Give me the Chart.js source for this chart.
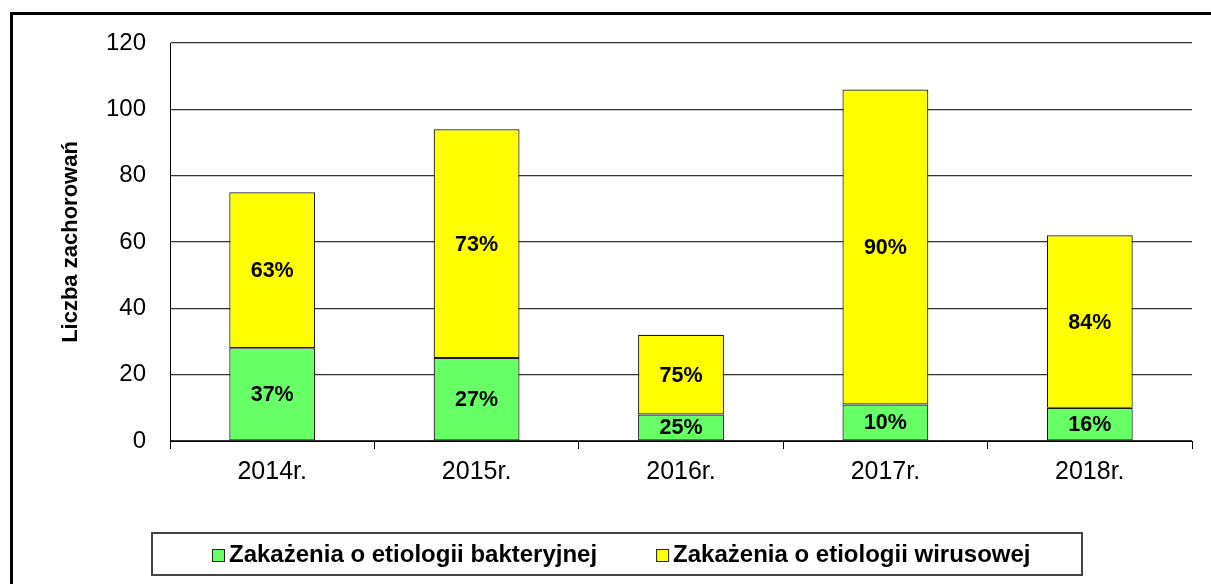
<!DOCTYPE html>
<html>
<head>
<meta charset="utf-8">
<script src="https://cdn.jsdelivr.net/npm/chart.js@4"></script>
<style>
html,body{margin:0;padding:0;background:#fff;}
#wrap{position:relative;width:1211px;height:584px;}
</style>
</head>
<body>
<div id="wrap"><canvas id="c" width="1211" height="584"></canvas></div>
<script>
const categories = ['2014r.', '2015r.', '2016r.', '2017r.', '2018r.'];
const bacterial = [28, 25, 8, 11, 10];
const viral = [47, 69, 24, 95, 52];
const seriesNames = ['Zakażenia o etiologii bakteryjnej', 'Zakażenia o etiologii wirusowej'];
const yTicks = [0, 20, 40, 60, 80, 100, 120];
const yTitle = 'Liczba zachorowań';

const FONT = "'Liberation Sans', Arial, sans-serif";

const frame = {
  id: 'frame',
  beforeDraw(chart) {
    const ctx = chart.ctx;
    ctx.save();
    ctx.fillStyle = '#fff';
    ctx.fillRect(0, 0, chart.width, chart.height);
    ctx.strokeStyle = '#000';
    ctx.lineWidth = 3;
    ctx.strokeRect(11.5, 13.5, 1400, 800);
    ctx.restore();
  }
};

const pctLabels = {
  id: 'pctLabels',
  afterDatasetsDraw(chart) {
    const ctx = chart.ctx;
    ctx.save();
    ctx.font = 'bold 21.5px ' + FONT;
    ctx.fillStyle = '#000';
    ctx.textAlign = 'center';
    ctx.textBaseline = 'middle';
    const ds = chart.data.datasets;
    categories.forEach((c, i) => {
      const total = ds.reduce((s, d) => s + d.data[i], 0);
      ds.forEach((d, di) => {
        const el = chart.getDatasetMeta(di).data[i];
        const pct = Math.round(d.data[i] / total * 100) + '%';
        ctx.fillText(pct, el.x, (el.y + el.base) / 2 + 1);
      });
    });
    ctx.restore();
  }
};

const boxLegend = {
  id: 'boxLegend',
  afterDraw(chart) {
    const ctx = chart.ctx;
    ctx.save();
    ctx.strokeStyle = '#444';
    ctx.lineWidth = 2;
    ctx.strokeRect(152, 533, 930, 42);
    ctx.font = 'bold 24px ' + FONT;
    ctx.textBaseline = 'middle';
    ctx.textAlign = 'left';
    let x = 212;
    const y = 555;
    chart.data.datasets.forEach((d) => {
      ctx.fillStyle = d.backgroundColor;
      ctx.fillRect(x, y - 6, 12, 12);
      ctx.strokeStyle = '#222';
      ctx.lineWidth = 1;
      ctx.strokeRect(x + 0.5, y - 5.5, 12, 12);
      ctx.fillStyle = '#000';
      ctx.fillText(d.label, x + 17, y);
      x += 17 + ctx.measureText(d.label).width + 59;
    });
    ctx.restore();
  }
};

new Chart(document.getElementById('c'), {
  type: 'bar',
  data: {
    labels: categories,
    datasets: [
      { label: seriesNames[0], data: bacterial, backgroundColor: '#66FF66', borderColor: '#1a1a1a', borderWidth: 1.2, borderSkipped: false },
      { label: seriesNames[1], data: viral, backgroundColor: '#FFFF00', borderColor: '#1a1a1a', borderWidth: 1.2, borderSkipped: false }
    ]
  },
  options: {
    responsive: false,
    animation: false,
    events: [],
    categoryPercentage: 1,
    barPercentage: 0.42,
    layout: { padding: { left: 58, right: 19, top: 43, bottom: 100 } },
    plugins: { legend: { display: false }, tooltip: { enabled: false } },
    scales: {
      x: {
        stacked: true,
        afterFit(s) { s.height = 43; },
        grid: { offset: true, drawOnChartArea: false, drawTicks: true, tickLength: 8, color: '#000', lineWidth: 1 },
        border: { display: true, color: '#000', width: 1 },
        ticks: { font: { family: FONT, size: 25 }, color: '#000', padding: 8 }
      },
      y: {
        stacked: true,
        min: 0,
        max: 120,
        afterFit(s) { s.width = 112; },
        afterBuildTicks(s) { s.ticks = yTicks.map(v => ({ value: v })); },
        grid: { color: '#333', lineWidth: 1.3, drawTicks: false },
        border: { display: true, color: '#000', width: 1 },
        ticks: { font: { family: FONT, size: 24 }, color: '#000', padding: 24 },
        title: { display: true, text: yTitle, font: { family: FONT, size: 22, weight: 'bold' }, color: '#000', padding: { top: 0, bottom: 0 } }
      }
    }
  },
  plugins: [frame, pctLabels, boxLegend]
});
</script>
</body>
</html>
